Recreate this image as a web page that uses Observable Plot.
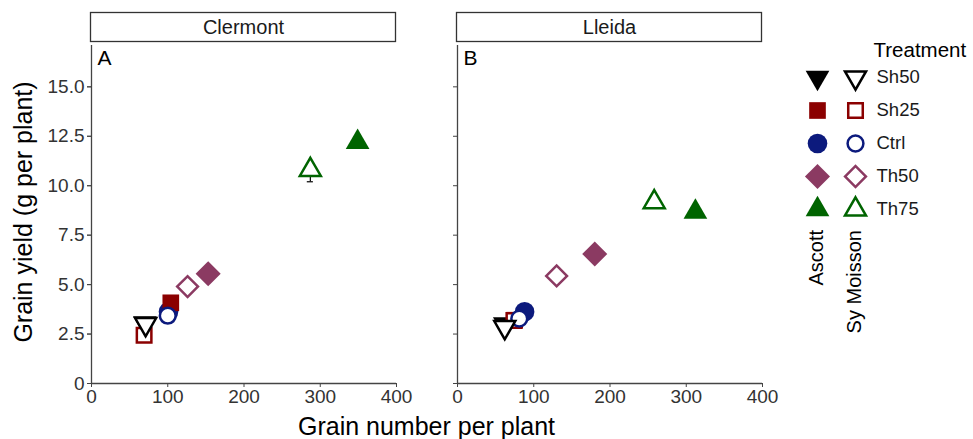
<!DOCTYPE html>
<html>
<head>
<meta charset="utf-8">
<script src="https://cdn.jsdelivr.net/npm/d3@7"></script>
<script src="https://cdn.jsdelivr.net/npm/@observablehq/plot@0.6"></script>
<style>
  html, body { margin: 0; padding: 0; background: #fff; }
  #wrap { position: relative; width: 973px; height: 439px; overflow: hidden; font-family: "Liberation Sans", Arial, sans-serif; }
  #main { position: absolute; left: 0; top: 0; }
  #legend { position: absolute; left: 775px; top: 0; }
</style>
</head>
<body>
<div id="wrap"><div id="main"></div><div id="legend"></div></div>
<script>
// ---------- data ----------
const sites = ["Clermont", "Lleida"];
const panelTags = ["A", "B"];
const genotypes = ["Ascott", "Sy Moisson"];
const treatments = ["Sh50", "Sh25", "Ctrl", "Th50", "Th75"];

// values in treatment order: Sh50, Sh25, Ctrl, Th50, Th75
const clermontAscottGrains = [70, 104, 101, 153, 349];
const clermontAscottYield  = [3.05, 4.08, 3.63, 5.55, 12.2];
const clermontSyGrains     = [71, 69, 100, 126, 287];
const clermontSyYield      = [3.0, 2.44, 3.43, 4.9, 10.8];
const lleidaAscottGrains   = [62, 75, 88, 180, 312];
const lleidaAscottYield    = [3.0, 3.2, 3.63, 6.55, 8.67];
const lleidaSyGrains       = [62, 74, 81, 130, 258];
const lleidaSyYield        = [2.85, 3.18, 3.28, 5.44, 9.17];

// visible error bar (Clermont, Sy Moisson, Th75)
const errSite = ["Clermont"];
const errGenotype = ["Sy Moisson"];
const errTreatment = ["Th75"];
const errLow = [10.2];
const errHigh = [11.4];

const xTicks = [0, 100, 200, 300, 400];
const yTicks = [0, 2.5, 5, 7.5, 10, 12.5, 15];

// ---------- styles ----------
const colours = ["#000000", "#8b0000", "#0c1a7d", "#8b3a62", "#006400"];
const shapes = [d3.symbolTriangle, d3.symbolSquare, d3.symbolCircle, d3.symbolSquare, d3.symbolTriangle];
const rotation = {Sh50: 180, Sh25: 0, Ctrl: 0, Th50: 45, Th75: 0};
const rFilled = {Sh50: 8.8, Sh25: 9.4, Ctrl: 9.8, Th50: 10, Th75: 8.8};
const rOpen = {Sh50: 7.8, Sh25: 8.2, Ctrl: 7.9, Th50: 8.3, Th75: 7.8};
const font = "Liberation Sans, Arial, Helvetica, sans-serif";

// ---------- tables ----------
function rows(site, genotype, grains, yields) {
  return treatments.map((t, i) => ({site, genotype, treatment: t, grains: grains[i], yield: yields[i]}));
}
const ascott = [...rows("Clermont", "Ascott", clermontAscottGrains, clermontAscottYield),
                ...rows("Lleida", "Ascott", lleidaAscottGrains, lleidaAscottYield)];
const syMoisson = [...rows("Clermont", "Sy Moisson", clermontSyGrains, clermontSyYield),
                   ...rows("Lleida", "Sy Moisson", lleidaSyGrains, lleidaSyYield)];
const all = [...ascott, ...syMoisson];
const errRows = errSite.map((s, i) => {
  const p = all.find(d => d.site === s && d.genotype === errGenotype[i] && d.treatment === errTreatment[i]);
  return {site: s, grains: p.grains, lo: errLow[i], hi: errHigh[i]};
});
const tagRows = sites.map((s, i) => ({site: s, tag: panelTags[i]}));

const yFormat = d => d === 0 ? "0" : d.toFixed(1);

const chart = Plot.plot({
  width: 775, height: 439,
  marginLeft: 91, marginRight: 13, marginTop: 45, marginBottom: 56,
  style: {fontFamily: font, fontSize: "19px", color: "#333", background: "white", overflow: "visible"},
  fx: {domain: sites, paddingInner: 0.167, paddingOuter: 0, axis: null, label: null},
  x: {domain: [0, 400], label: null},
  y: {domain: [0, 17.09], label: null},
  color: {domain: treatments, range: colours},
  symbol: {domain: treatments, range: shapes},
  r: {type: "identity"},
  marks: [
    Plot.axisX({ticks: xTicks, tickSize: 4, tickPadding: 2, label: null, fontSize: 19, stroke: "#444", fill: "#333"}),
    Plot.axisY({ticks: yTicks, tickSize: 4, tickFormat: () => "", label: null, facetAnchor: null, stroke: "#444"}),
    Plot.axisY({ticks: yTicks, tickSize: 4, tickPadding: 3, tickFormat: yFormat, label: null, fontSize: 19, stroke: "#444", fill: "#333"}),
    Plot.ruleX([0], {stroke: "#444", strokeWidth: 1.3}),
    Plot.ruleY([0], {stroke: "#444", strokeWidth: 1.3}),
    Plot.text(tagRows, {fx: "site", text: "tag", frameAnchor: "top-left", dx: 6, dy: 5, lineAnchor: "top", fontSize: 21, fill: "#000"}),
    Plot.dot(ascott, {x: "grains", y: "yield", fx: "site", symbol: "treatment", fill: "treatment",
      r: d => rFilled[d.treatment], rotate: d => rotation[d.treatment]}),
    Plot.ruleX(errRows, {x: "grains", y1: "lo", y2: "hi", fx: "site", stroke: "#000", strokeWidth: 1.2}),
    Plot.ruleY(errRows, {y: "lo", x1: d => d.grains - 4, x2: d => d.grains + 4, fx: "site", stroke: "#000", strokeWidth: 1.2}),
    Plot.dot(syMoisson, {x: "grains", y: "yield", fx: "site", symbol: "treatment", stroke: "treatment", fill: "white",
      strokeWidth: 2.5, r: d => rOpen[d.treatment], rotate: d => rotation[d.treatment]})
  ]
});

// strips and axis titles
const svg = d3.select(chart);
const fx = chart.scale("fx");
const strips = svg.append("g");
sites.forEach(s => {
  const x0 = fx.apply(s);
  strips.append("rect").attr("x", x0 - 0.5).attr("y", 12.5).attr("width", fx.bandwidth).attr("height", 29)
    .attr("fill", "white").attr("stroke", "#333").attr("stroke-width", 1.3);
  strips.append("text").attr("x", x0 + fx.bandwidth / 2).attr("y", 27).attr("dy", "0.35em")
    .attr("text-anchor", "middle").attr("font-size", 20).attr("fill", "#1a1a1a").text(s);
});
svg.append("text").attr("x", (fx.apply(sites[0]) + fx.apply(sites[1]) + fx.bandwidth) / 2).attr("y", 435)
  .attr("text-anchor", "middle").attr("font-size", 25).attr("fill", "#000").text("Grain number per plant");
svg.append("text").attr("transform", "translate(32,212) rotate(-90)")
  .attr("text-anchor", "middle").attr("font-size", 25).attr("fill", "#000").text("Grain yield (g per plant)");
document.getElementById("main").appendChild(chart);

// ---------- legend ----------
const legendRows = genotypes.flatMap(g => treatments.map(t => ({genotype: g, treatment: t})));
const legend = Plot.plot({
  width: 198, height: 439, margin: 0,
  style: {fontFamily: font, background: "transparent", overflow: "visible"},
  x: {type: "point", domain: genotypes, range: [42, 80], padding: 0, axis: null},
  y: {type: "point", domain: treatments, range: [76, 210], padding: 0, axis: null},
  color: {domain: treatments, range: colours},
  symbol: {domain: treatments, range: shapes},
  r: {type: "identity"},
  marks: [
    Plot.dot(legendRows.filter(d => d.genotype === "Ascott"), {x: "genotype", y: "treatment", symbol: "treatment", fill: "treatment",
      r: d => rFilled[d.treatment], rotate: d => rotation[d.treatment]}),
    Plot.dot(legendRows.filter(d => d.genotype === "Sy Moisson"), {x: "genotype", y: "treatment", symbol: "treatment", stroke: "treatment", fill: "white",
      strokeWidth: 2.5, r: d => rOpen[d.treatment], rotate: d => rotation[d.treatment]}),
    Plot.text(treatments, {x: () => genotypes[1], y: d => d, text: d => d, dx: 21, textAnchor: "start", fontSize: 18.5, fill: "#1a1a1a"}),
    Plot.text(["Treatment"], {frameAnchor: "top-left", dx: 98, dy: 56, lineAnchor: "bottom", textAnchor: "start", fontSize: 20.5, fill: "#000"})
  ]
});
// rotated genotype captions under the legend columns
const lx = legend.scale("x");
const lsvg = d3.select(legend);
genotypes.forEach(g => {
  lsvg.append("text").attr("transform", `translate(${lx.apply(g) - 1},230) rotate(-90)`)
    .attr("text-anchor", "end").attr("dy", "0.35em").attr("font-size", 20).attr("fill", "#000").text(g);
});
document.getElementById("legend").appendChild(legend);
</script>
</body>
</html>
